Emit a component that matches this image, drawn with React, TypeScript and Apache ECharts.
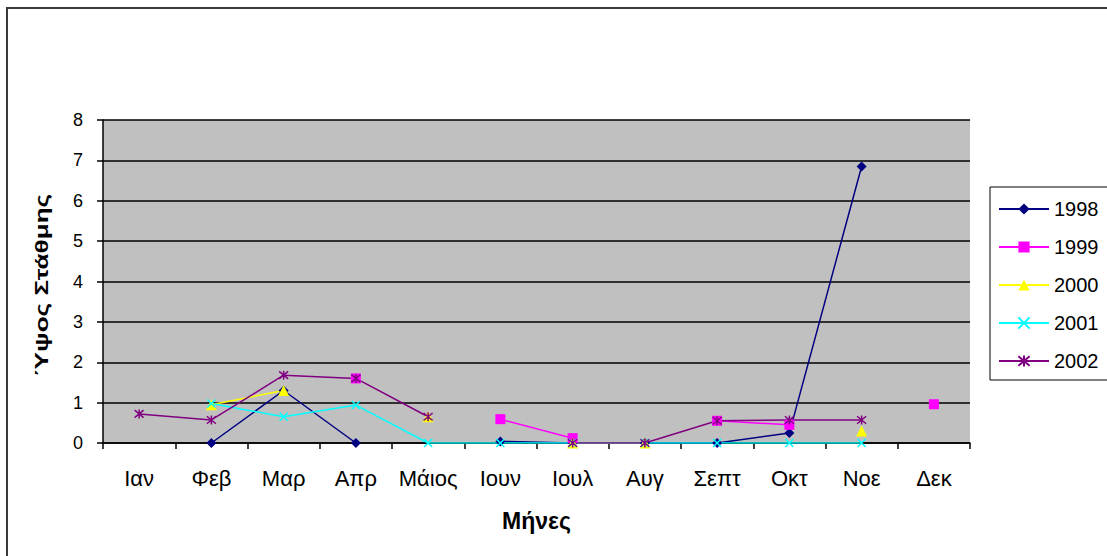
import React, { useEffect, useRef } from "react";
import * as echarts from "echarts";

const months = ["Ιαν", "Φεβ", "Μαρ", "Απρ", "Μάιος", "Ιουν", "Ιουλ", "Αυγ", "Σεπτ", "Οκτ", "Νοε", "Δεκ"];
const yTicks = [0, 1, 2, 3, 4, 5, 6, 7, 8];
const s1998 = [null, 0, 1.3, 0, null, 0.04, 0, 0, 0, 0.25, 6.85, null];
const s1999 = [null, null, null, 1.6, null, 0.59, 0.12, null, 0.55, 0.45, null, 0.96];
const s2000 = [null, 0.95, 1.3, null, 0.65, null, 0, 0, null, null, 0.3, null];
const s2001 = [null, 0.98, 0.65, 0.94, 0, 0, 0, 0, 0, 0, 0, null];
const s2002 = [0.72, 0.57, 1.68, 1.6, 0.65, null, 0, 0, 0.55, 0.57, 0.57, null];

const FONT = "'Liberation Sans', Arial, sans-serif";
const X_SYM = "path://M0,0L10,10M10,0L0,10";
const STAR_SYM = "path://M0,0L10,10M10,0L0,10M5,-1L5,11";

export default function App() {
  const ref = useRef<HTMLDivElement>(null);
  useEffect(() => {
    const chart = echarts.init(ref.current!, null, { renderer: "svg" });
    const mk = (name: string, data: any[], color: string, symbol: string, size: number, stroke = false) => ({
      name,
      type: "line",
      data,
      symbol,
      symbolSize: size,
      showSymbol: true,
      lineStyle: { color, width: 1.5 },
      itemStyle: stroke
        ? { color, borderColor: color, borderWidth: 1.5 }
        : { color, borderWidth: 0 },
    });
    chart.setOption({
      animation: false,
      textStyle: { fontFamily: FONT },
      graphic: [
        {
          type: "rect",
          shape: { x: 7, y: 8, width: 1300, height: 700 },
          style: { fill: "none", stroke: "#3a3a3a", lineWidth: 2 },
          z: -10,
        },
        {
          type: "text",
          x: 42,
          y: 285,
          rotation: Math.PI / 2,
          scaleX: 1.45,
          style: {
            text: "Ύψος Στάθμης",
            fontSize: 18,
            fontWeight: "bold",
            fontFamily: FONT,
            fill: "#000",
            align: "center",
            verticalAlign: "middle",
          },
        },
      ],
      grid: {
        left: 103,
        top: 120,
        right: 137,
        bottom: 113,
        show: true,
        backgroundColor: "#C0C0C0",
        borderWidth: 0,
      },
      legend: {
        orient: "vertical",
        left: 990,
        top: 187,
        padding: [12, 40, 9, 8],
        itemWidth: 50,
        itemHeight: 14,
        itemGap: 18,
        backgroundColor: "#ffffff",
        borderColor: "#000000",
        borderWidth: 1,
        textStyle: { fontSize: 20, color: "#000", fontFamily: FONT },
        data: ["1998", "1999", "2000", "2001", "2002"],
      },
      xAxis: {
        type: "category",
        data: months,
        boundaryGap: true,
        name: "Μήνες",
        nameLocation: "middle",
        nameGap: 66,
        nameTextStyle: { fontSize: 23, fontWeight: "bold", color: "#000", fontFamily: FONT },
        axisLine: { lineStyle: { color: "#000", width: 1.5 } },
        axisTick: { show: true, length: 6, lineStyle: { color: "#000", width: 1.5 } },
        axisLabel: { fontSize: 22, color: "#000", margin: 24, fontFamily: FONT, interval: 0 },
        splitLine: { show: false },
      },
      yAxis: {
        type: "value",
        min: yTicks[0],
        max: yTicks[yTicks.length - 1],
        interval: 1,
        axisLine: { show: true, lineStyle: { color: "#000", width: 1.5 } },
        axisTick: { show: true, length: 6, lineStyle: { color: "#000", width: 1.5 } },
        axisLabel: { fontSize: 18, color: "#000", margin: 20, fontFamily: FONT },
        splitLine: { show: true, lineStyle: { color: "#000", width: 1.5 } },
      },
      series: [
        mk("1998", s1998, "#000080", "diamond", 10),
        mk("1999", s1999, "#FF00FF", "rect", 10),
        mk("2000", s2000, "#FFFF00", "triangle", 11),
        mk("2001", s2001, "#00FFFF", X_SYM, 8, true),
        mk("2002", s2002, "#800080", STAR_SYM, 9, true),
      ],
    });
    return () => chart.dispose();
  }, []);
  return (
    <div
      ref={ref}
      style={{ position: "absolute", left: 0, top: 0, width: 1107, height: 556 }}
    />
  );
}
